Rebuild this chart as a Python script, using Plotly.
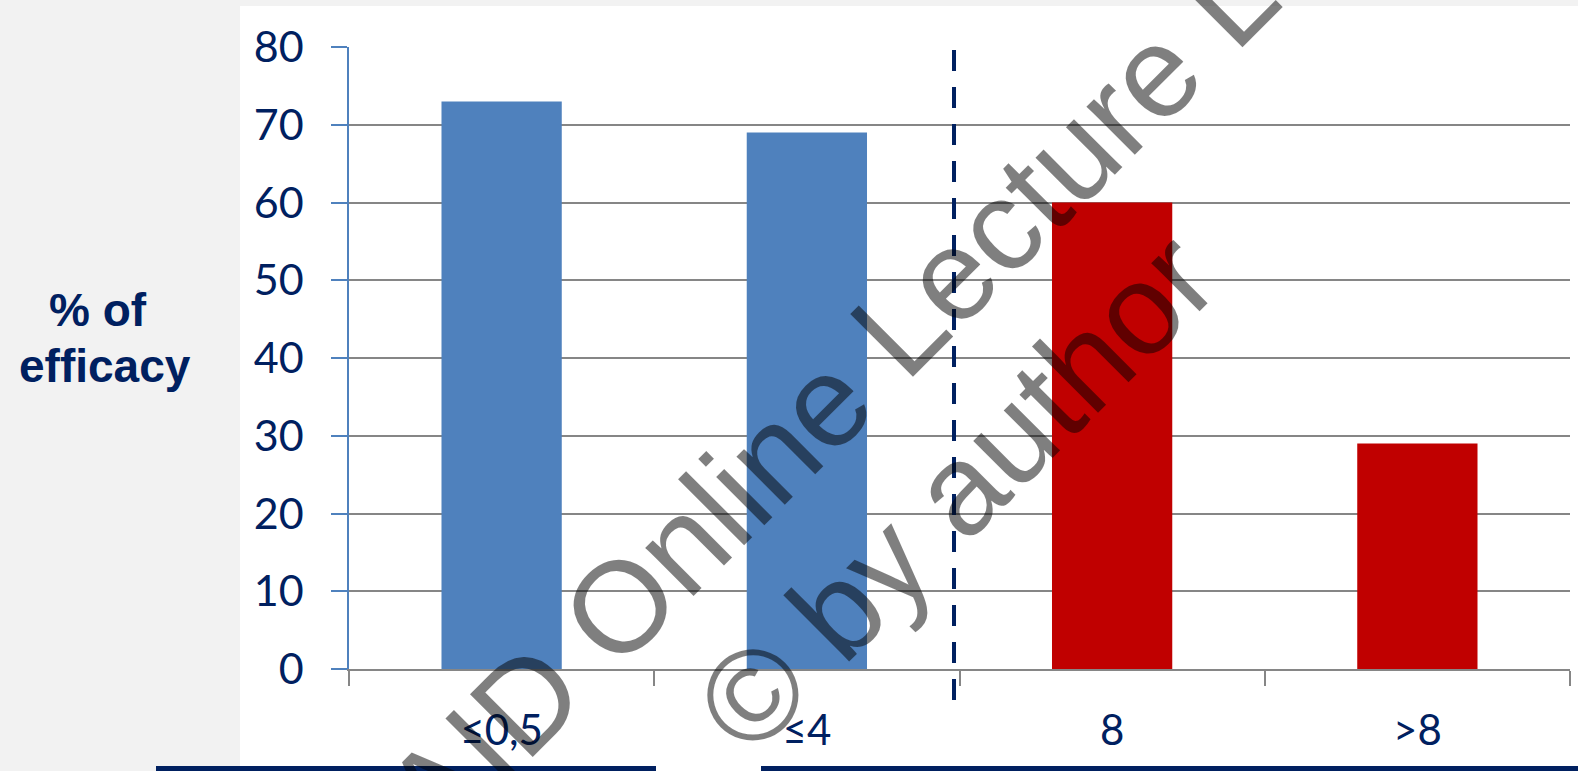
import plotly.graph_objects as go

# Data
categories = ["≤0,5", "≤4", "8", ">8"]
efficacy = [73, 69, 60, 29]
bar_colors = ["#4F81BD", "#4F81BD", "#C00000", "#C00000"]
y_ticks = [0, 10, 20, 30, 40, 50, 60, 70, 80]

NAVY = "#002060"
GRID = "#868686"

W, H = 1578, 771
L, R, T, B = 349, 8, 47, 102


def px_x(px):
    return (px - L) / (W - L - R)


def px_y(py):
    return (H - B - py) / (H - T - B)


fig = go.Figure()
fig.add_trace(go.Bar(
    x=categories,
    y=efficacy,
    marker=dict(color=bar_colors, line=dict(width=0)),
    showlegend=False,
    hoverinfo="x+y",
))

shapes = [
    # white slide panel behind the chart
    dict(type="rect", xref="paper", yref="paper", layer="below",
         x0=px_x(240), x1=px_x(W + 5), y0=px_y(H + 5), y1=px_y(6),
         fillcolor="white", line=dict(width=0)),
    # dashed separator between the two groups
    dict(type="line", xref="x", yref="paper",
         x0=1.482, x1=1.482, y0=px_y(700), y1=px_y(43),
         line=dict(color=NAVY, width=4, dash="21px,16px")),
    # navy rules along the bottom edge
    dict(type="rect", xref="paper", yref="paper",
         x0=px_x(156), x1=px_x(656), y0=px_y(771), y1=px_y(766),
         fillcolor=NAVY, line=dict(width=0)),
    dict(type="rect", xref="paper", yref="paper",
         x0=px_x(761), x1=px_x(W + 5), y0=px_y(771), y1=px_y(766),
         fillcolor=NAVY, line=dict(width=0)),
]

title_font = dict(family="Liberation Sans, Arial, sans-serif", size=46, color=NAVY)
wm_font = dict(family="Liberation Sans, Arial, sans-serif", size=129,
               color="rgba(0,0,0,0.5)")

annotations = [
    dict(text="<b>% of</b>", xref="paper", yref="paper",
         x=px_x(98), y=px_y(310), xanchor="center", yanchor="middle",
         showarrow=False, font=title_font),
    dict(text="<b>efficacy</b>", xref="paper", yref="paper",
         x=px_x(105), y=px_y(366), xanchor="center", yanchor="middle",
         showarrow=False, font=title_font),
    # watermark
    dict(text="AID Online Lecture L", xref="paper", yref="paper",
         x=px_x(830), y=px_y(396), xanchor="center", yanchor="middle",
         textangle=-45, showarrow=False, font=wm_font),
    dict(text="© by author", xref="paper", yref="paper",
         x=px_x(955), y=px_y(492), xanchor="center", yanchor="middle",
         textangle=-45, showarrow=False, font=wm_font),
]

fig.update_layout(
    width=W, height=H,
    margin=dict(l=L, r=R, t=T, b=B, pad=0),
    paper_bgcolor="#F2F2F2",
    plot_bgcolor="rgba(0,0,0,0)",
    bargap=0.606,
    shapes=shapes,
    annotations=annotations,
    font=dict(family="Lato, sans-serif", color=NAVY),
    xaxis=dict(
        type="category",
        showline=True, linecolor=GRID, linewidth=2,
        ticks="outside", tickson="boundaries", ticklen=15,
        tickcolor=GRID, tickwidth=1.5,
        showgrid=False,
        tickfont=dict(family="Lato, sans-serif", size=42, color=NAVY),
        ticklabelstandoff=24,
    ),
    yaxis=dict(
        range=[0, 80],
        tickvals=y_ticks,
        showline=True, linecolor="#4F81BD", linewidth=1.5,
        ticks="outside", ticklen=16, tickcolor="#4F81BD", tickwidth=1.5,
        showgrid=True, gridcolor=GRID, gridwidth=1.5,
        zeroline=False,
        tickfont=dict(family="Lato, sans-serif", size=43, color=NAVY),
        ticklabelstandoff=19,
    ),
)

fig.write_html("out.html")
